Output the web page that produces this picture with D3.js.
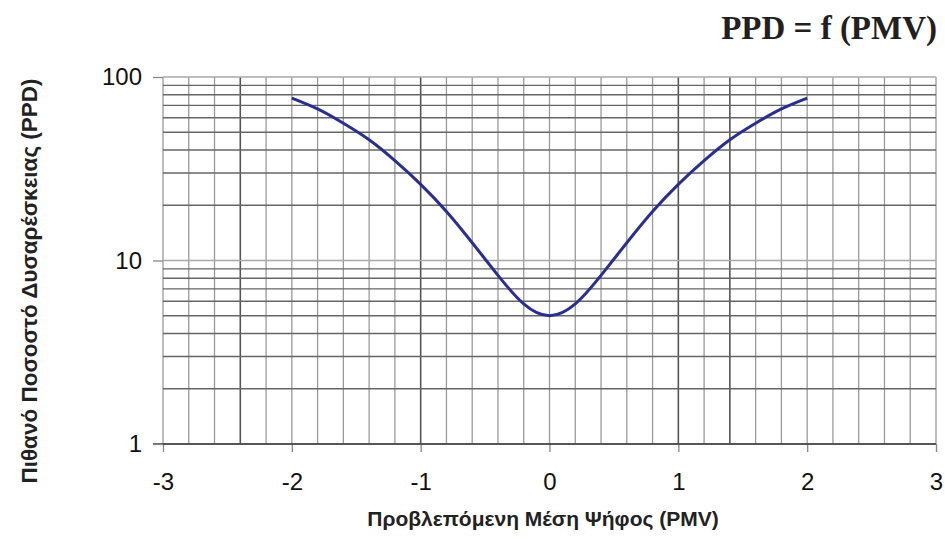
<!DOCTYPE html>
<html>
<head>
<meta charset="utf-8">
<script src="https://cdn.jsdelivr.net/npm/d3@7"></script>
<style>
  body { margin: 0; background: #fff; }
  svg { display: block; }
</style>
</head>
<body>
<div id="chart"></div>
<script>
// PMV values (x) and PPD values (y)
const pmv = [-2.0, -1.8, -1.6, -1.4, -1.2, -1.0, -0.8, -0.6, -0.4, -0.2, 0.0,
             0.2, 0.4, 0.6, 0.8, 1.0, 1.2, 1.4, 1.6, 1.8, 2.0];
const ppd = [76.8, 67, 56, 45.5, 35, 26, 18.5, 12.5, 8.3, 5.8, 5.0,
             5.8, 8.3, 12.5, 18.5, 26, 35, 45.5, 56, 67, 76.8];
const xTicks = [-3, -2, -1, 0, 1, 2, 3];
const yTicks = [1, 10, 100];
const darkX = [-2.4, -1, 1, 1.4];

const width = 945, height = 546;
const margin = { left: 163, right: 10, top: 77, bottom: 102 };
const plotW = 936 - margin.left;
const plotH = 444 - margin.top;

const svg = d3.select('#chart').append('svg')
    .attr('width', width)
    .attr('height', height);

const x = d3.scaleLinear().domain([-3, 3]).range([margin.left, margin.left + plotW]);
const y = d3.scaleLog().domain([1, 100]).range([margin.top + plotH, margin.top]);

const isDark = d => darkX.some(v => Math.abs(v - d) < 1e-6);

// vertical grid every 0.2
const xGrid = d3.range(-15, 16).map(i => i / 5);
svg.append('g').selectAll('line')
    .data(xGrid)
    .enter().append('line')
    .attr('x1', d => x(d)).attr('x2', d => x(d))
    .attr('y1', y(100)).attr('y2', y(1))
    .attr('stroke', d => isDark(d) ? '#555' : '#9a9a9a')
    .attr('stroke-width', d => isDark(d) ? 1.6 : 1.3);

// horizontal log grid
const yGrid = y.ticks();
svg.append('g').selectAll('line')
    .data(yGrid)
    .enter().append('line')
    .attr('x1', x(-3)).attr('x2', x(3))
    .attr('y1', d => y(d)).attr('y2', d => y(d))
    .attr('stroke', d => yTicks.includes(d) ? '#a8a8a8' : '#666')
    .attr('stroke-width', 1.4);

// x axis
const xAxis = svg.append('g')
    .attr('transform', `translate(0,${y(1)})`)
    .call(d3.axisBottom(x).tickValues(xTicks).tickFormat(d => String(d)).tickSize(8).tickPadding(21));
xAxis.select('.domain').remove();
xAxis.append('line')
    .attr('x1', 153).attr('x2', x(3)).attr('y1', 0).attr('y2', 0)
    .attr('stroke', '#333').attr('stroke-width', 1.6);
xAxis.selectAll('.tick line').attr('stroke', '#888').attr('stroke-width', 1.3);
xAxis.selectAll('.tick text')
    .attr('fill', '#111')
    .style('font-family', 'Liberation Sans, Arial, sans-serif')
    .style('font-size', '24px');

// y axis
const yAxis = svg.append('g')
    .attr('transform', `translate(${x(-3)},0)`)
    .call(d3.axisLeft(y).tickValues(yTicks).tickFormat(d3.format('d')).tickSize(10).tickPadding(11));
yAxis.select('.domain').remove();
yAxis.selectAll('.tick line').attr('stroke', '#888').attr('stroke-width', 1.3);
yAxis.selectAll('.tick text')
    .attr('fill', '#111')
    .style('font-family', 'Liberation Sans, Arial, sans-serif')
    .style('font-size', '24px');

// curve
const line = d3.line()
    .x((d, i) => x(pmv[i]))
    .y(d => y(d))
    .curve(d3.curveNatural);
svg.append('path')
    .datum(ppd)
    .attr('d', line)
    .attr('fill', 'none')
    .attr('stroke', '#2a2f8f')
    .attr('stroke-width', 3);

// titles
svg.append('text')
    .attr('x', 937).attr('y', 39)
    .attr('text-anchor', 'end')
    .style('font-family', 'Liberation Serif, Times New Roman, serif')
    .style('font-weight', 'bold')
    .style('font-size', '33px')
    .attr('fill', '#231f20')
    .text('PPD = f (PMV)');

svg.append('text')
    .attr('x', 543).attr('y', 526)
    .attr('text-anchor', 'middle')
    .style('font-family', 'Liberation Sans, Arial, sans-serif')
    .style('font-weight', 'bold')
    .style('font-size', '21px')
    .attr('fill', '#222')
    .text('Προβλεπόμενη Μέση Ψήφος (PMV)');

svg.append('text')
    .attr('transform', 'translate(37,281) rotate(-90)')
    .attr('text-anchor', 'middle')
    .style('font-family', 'Liberation Sans, Arial, sans-serif')
    .style('font-weight', 'bold')
    .style('font-size', '22.5px')
    .attr('fill', '#222')
    .text('Πιθανό Ποσοστό Δυσαρέσκειας (PPD)');
</script>
</body>
</html>
